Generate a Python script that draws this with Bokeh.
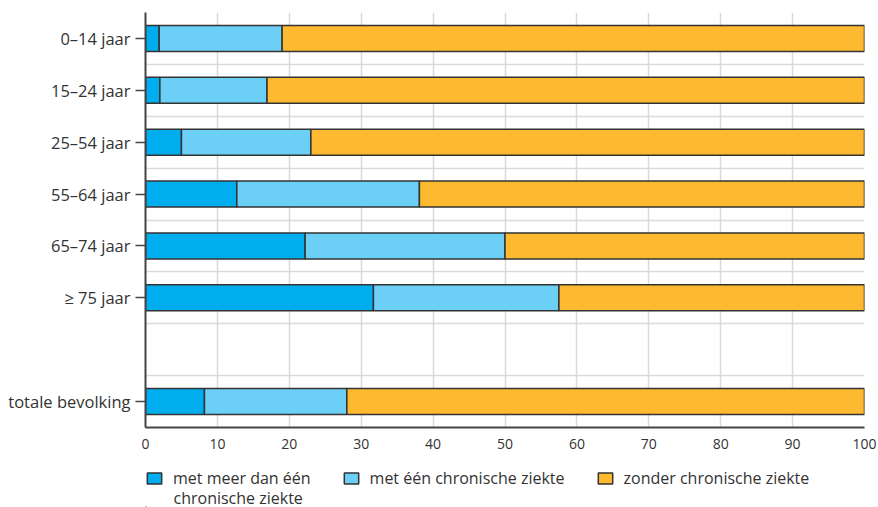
from bokeh.plotting import figure
from bokeh.models import ColumnDataSource, FixedTicker, Range1d, Legend, LegendItem, Label
from bokeh.layouts import column
from bokeh.embed import file_html
from bokeh.resources import INLINE

# ---- data ----
categories = ["0–14 jaar", "15–24 jaar", "25–54 jaar", "55–64 jaar",
              "65–74 jaar", "≥ 75 jaar", None, "totale bevolking"]
meer_dan_een = [1.9, 2.0, 5.0, 12.7, 22.2, 31.7, 8.2]
een = [17.1, 14.9, 18.0, 25.4, 27.8, 25.8, 19.8]
zonder = [81.0, 83.1, 77.0, 61.9, 50.0, 42.5, 72.0]
series_labels = ["met meer dan één", "met één chronische ziekte", "zonder chronische ziekte"]
series_label_line2 = "chronische ziekte"
x_ticks = list(range(0, 101, 10))

colors = ["#00AEEF", "#6BCFF6", "#FDB92F"]
FONT = "Open Sans"
TXT = "#333333"
EDGE = "#333333"

# slot index for each real category (gap slot is skipped)
slots = [i for i, c in enumerate(categories) if c is not None]
labels = [c for c in categories if c is not None]

src = ColumnDataSource(dict(y=slots, a=meer_dan_een, b=een, c=zonder))

W = 878
FL, FW = 145, 719
p = figure(frame_width=FW, frame_height=415, output_backend="svg", toolbar_location=None,
           x_range=Range1d(0, 100), y_range=Range1d(len(categories) - 0.5, -0.5),
           min_border_left=FL, min_border_right=W - FL - FW, min_border_top=12,
           min_border_bottom=32)
p.outline_line_color = None

p.hbar_stack(["a", "b", "c"], y="y", height=0.5, source=src,
             fill_color=colors, line_color=EDGE, line_width=1.5)

# axes
p.xaxis.ticker = FixedTicker(ticks=x_ticks)
p.xaxis.major_tick_line_color = None
p.xaxis.minor_tick_line_color = None
p.xaxis.axis_line_color = "#444444"
p.xaxis.axis_line_width = 2
p.xaxis.major_label_text_font = FONT
p.xaxis.major_label_text_font_size = "14px"
p.xaxis.major_label_text_color = TXT
p.xaxis.major_label_standoff = 5

p.yaxis.ticker = FixedTicker(ticks=slots)
p.yaxis.major_label_overrides = {s: l for s, l in zip(slots, labels)}
p.yaxis.minor_tick_line_color = None
p.yaxis.major_tick_out = 10
p.yaxis.major_tick_in = 0
p.yaxis.major_tick_line_color = "#444444"
p.yaxis.major_tick_line_width = 1.5
p.yaxis.axis_line_color = "#444444"
p.yaxis.axis_line_width = 2
p.yaxis.major_label_text_font = FONT
p.yaxis.major_label_text_font_size = "16.5px"
p.yaxis.major_label_text_color = TXT
p.yaxis.major_label_standoff = 5

# grid
p.xgrid.ticker = FixedTicker(ticks=x_ticks)
p.xgrid.grid_line_color = "#dadada"
p.xgrid.grid_line_width = 1.5
p.ygrid.ticker = FixedTicker(ticks=[i - 0.5 for i in range(len(categories) + 1)])
p.ygrid.grid_line_color = "#dadada"
p.ygrid.grid_line_width = 1.5

# ---- legend strip below the chart; its frame is aligned with the chart's frame,
# so the ranges are set so that one data unit equals one pixel ----
LH = 48
lf = figure(width=W, height=LH, output_backend="svg", toolbar_location=None,
            x_range=Range1d(0, FW), y_range=Range1d(0, LH), min_border=0,
            min_border_left=FL, min_border_right=W - FL - FW,
            x_axis_location=None, y_axis_location=None)
lf.grid.visible = False
lf.outline_line_color = None
# swatch renderers for the legend only (placed far outside the visible range)
swatches = [lf.hbar(y=[-1000], left=[0], right=[1], height=1, fill_color=c,
                    line_color=EDGE, line_width=1.5) for c in colors]
legend = Legend(items=[LegendItem(label=l, renderers=[r]) for l, r in zip(series_labels, swatches)],
                orientation="horizontal", location=(0, 18),
                glyph_width=18, glyph_height=14, label_standoff=10, spacing=31,
                padding=0, margin=0, border_line_color=None, background_fill_alpha=0,
                label_text_font=FONT, label_text_font_size="16px", label_text_color=TXT)
lf.add_layout(legend, "center")
lf.add_layout(Label(x=28, y=10, text=series_label_line2, text_baseline="middle",
                    text_align="left", text_font=FONT, text_font_size="16px", text_color=TXT))

open("out.html", "w").write(file_html(column(p, lf), INLINE))
